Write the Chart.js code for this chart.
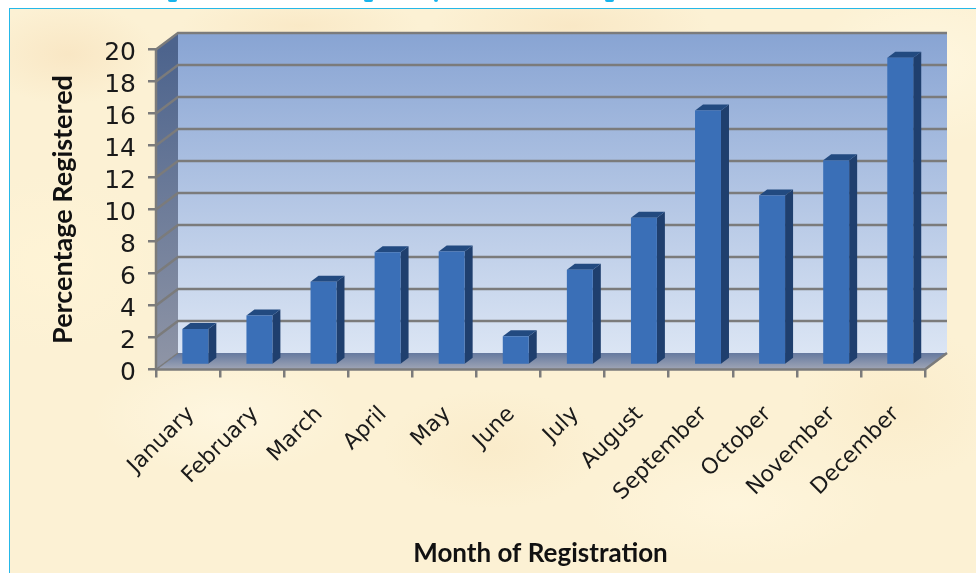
<!DOCTYPE html>
<html>
<head>
<meta charset="utf-8">
<style>
  html, body { margin: 0; padding: 0; background: #fff; overflow: hidden; }
  #paper {
    position: absolute; left: 9px; top: 8px; width: 967px; height: 565px;
    box-sizing: border-box;
    border-left: 1.5px solid #25b8e8; border-top: 1.5px solid #25b8e8;
    background:
      radial-gradient(ellipse 90px 50px at 6% 8%, rgba(247,224,186,.6), transparent),
      radial-gradient(ellipse 120px 30px at 30% 3%, rgba(248,228,190,.6), transparent),
      radial-gradient(ellipse 140px 40px at 58% 3%, rgba(247,226,188,.6), transparent),
      radial-gradient(ellipse 120px 80px at 95% 10%, rgba(255,248,226,.8), transparent),
      radial-gradient(ellipse 120px 90px at 4% 45%, rgba(255,244,214,.8), transparent),
      radial-gradient(ellipse 130px 60px at 22% 72%, rgba(255,248,228,.7), transparent),
      radial-gradient(ellipse 110px 60px at 50% 78%, rgba(249,232,196,.6), transparent),
      radial-gradient(ellipse 150px 60px at 75% 88%, rgba(255,246,222,.8), transparent),
      radial-gradient(ellipse 100px 80px at 92% 70%, rgba(250,234,198,.6), transparent),
      #fcf1d4;
  }
  .clipped { position: absolute; top: 0; height: 2px; width: 9px; background: #18b4ec; border-radius: 0 0 5px 5px; }
  #c { position: absolute; left: 0; top: 0; }
</style>
</head>
<body>
<div id="paper"></div>
<div class="clipped" style="left:168px"></div>
<div class="clipped" style="left:364px"></div>
<div class="clipped" style="left:434px;width:4px"></div>
<div class="clipped" style="left:605px"></div>
<canvas id="c" width="976" height="573"></canvas>
<script src="https://cdn.jsdelivr.net/npm/chart.js@4"></script>
<script>
const MONTHS = ['January', 'February', 'March', 'April', 'May', 'June', 'July', 'August', 'September', 'October', 'November', 'December'];
const PERCENT = [2.25, 3.1, 5.2, 7.05, 7.1, 1.8, 5.95, 9.2, 15.9, 10.6, 12.8, 19.2];

// depth of the fake 3D box, and where the bars stand inside it
const WALL_DX = 22, WALL_DY = -16.5;
const BAR_DX = 7.3, BAR_DY = -4.5;
const BAR_SIDE_DX = 8, BAR_SIDE_DY = -6;

function poly(ctx, pts, fill) {
  ctx.beginPath();
  pts.forEach((p, i) => (i ? ctx.lineTo(p[0], p[1]) : ctx.moveTo(p[0], p[1])));
  ctx.closePath();
  ctx.fillStyle = fill;
  ctx.fill();
}

function vGrad(ctx, y0, y1, from, to) {
  const g = ctx.createLinearGradient(0, y0, 0, y1);
  g.addColorStop(0, from);
  g.addColorStop(1, to);
  return g;
}

const box3d = {
  id: 'box3d',
  // walls, floor and grid go under the bars
  beforeDatasetsDraw(chart) {
    const { ctx, scales: { x, y } } = chart;
    const l = x.left, r = x.right, t = y.getPixelForValue(20), b = y.getPixelForValue(0);
    ctx.save();
    poly(ctx, [[l + WALL_DX, t + WALL_DY], [r + WALL_DX, t + WALL_DY], [r + WALL_DX, b + WALL_DY], [l + WALL_DX, b + WALL_DY]],
      vGrad(ctx, t + WALL_DY, b + WALL_DY, '#88a4d3', '#dbe5f4'));
    poly(ctx, [[l, t], [l + WALL_DX, t + WALL_DY], [l + WALL_DX, b + WALL_DY], [l, b]],
      vGrad(ctx, t, b, '#4d648d', '#8f95a6'));
    poly(ctx, [[l, b], [l + WALL_DX, b + WALL_DY], [r + WALL_DX, b + WALL_DY], [r, b]],
      vGrad(ctx, b + WALL_DY, b, '#65799f', '#a0a6b6'));

    ctx.strokeStyle = '#7b7b7b';
    y.ticks.forEach((tk) => {
      const py = y.getPixelForValue(tk.value);
      ctx.lineWidth = tk.value === 0 ? 1.5 : 2.5;
      ctx.beginPath();
      ctx.moveTo(l, py);
      ctx.lineTo(l + WALL_DX, py + WALL_DY);
      if (tk.value !== 0) ctx.lineTo(r + WALL_DX, py + WALL_DY);
      ctx.stroke();
    });
    ctx.lineWidth = 2.5;
    ctx.beginPath();
    ctx.moveTo(l, b);
    ctx.lineTo(r, b);
    ctx.lineTo(r + WALL_DX, b + WALL_DY);
    ctx.stroke();
    ctx.beginPath();
    ctx.moveTo(l, t);
    ctx.lineTo(l, b);
    ctx.stroke();

    // bar sides first, then the library draws the fronts shifted into the box
    ctx.translate(BAR_DX, BAR_DY);
    chart.getDatasetMeta(0).data.forEach((bar) => {
      const x0 = bar.x - bar.width / 2, x1 = bar.x + bar.width / 2;
      poly(ctx, [[x1, bar.y], [x1 + BAR_SIDE_DX, bar.y + BAR_SIDE_DY], [x1 + BAR_SIDE_DX, bar.base + BAR_SIDE_DY], [x1, bar.base]], '#1f3f6e');
      poly(ctx, [[x0, bar.y], [x0 + BAR_SIDE_DX, bar.y + BAR_SIDE_DY], [x1 + BAR_SIDE_DX, bar.y + BAR_SIDE_DY], [x1, bar.y]], '#224a80');
    });
    ctx.restore();
    ctx.save();
    ctx.translate(BAR_DX, BAR_DY);
  },
  afterDatasetsDraw(chart) {
    chart.ctx.restore();
  },
};

new Chart(document.getElementById('c'), {
  type: 'bar',
  data: {
    labels: MONTHS,
    datasets: [{ data: PERCENT, backgroundColor: '#3a6fb7', borderWidth: 0, barPercentage: 0.405, categoryPercentage: 1 }],
  },
  plugins: [box3d],
  options: {
    responsive: false,
    animation: false,
    layout: { padding: { left: 0, top: 49.5, right: 51, bottom: 0 } },
    plugins: { legend: { display: false }, tooltip: { enabled: false } },
    scales: {
      x: {
        afterFit: (s) => { s.height = 203.5; },
        grid: { drawOnChartArea: false, drawTicks: true, tickLength: 8, color: '#7b7b7b', lineWidth: 2.5 },
        border: { display: false },
        ticks: { color: '#1a1a1a', font: { family: 'DejaVu Sans', size: 22 }, minRotation: 45, maxRotation: 45, padding: 24, labelOffset: 3, autoSkip: false },
        title: { display: true, text: 'Month of Registration', color: '#111', font: { family: 'Lato', size: 26, weight: 'bold' }, padding: { bottom: 4 } },
      },
      y: {
        min: 0,
        max: 20,
        afterFit: (s) => { s.width = 156; },
        grid: { drawOnChartArea: false, drawTicks: true, tickLength: 8, color: '#7b7b7b', lineWidth: 2.5 },
        border: { display: false },
        ticks: { stepSize: 2, color: '#1a1a1a', font: { family: 'DejaVu Sans', size: 25 }, padding: 12, labelOffset: 4, autoSkip: false },
        title: { display: true, text: 'Percentage Registered', color: '#111', font: { family: 'Lato', size: 27, weight: 'bold' }, padding: { top: 47 } },
      },
    },
  },
});
</script>
</body>
</html>
